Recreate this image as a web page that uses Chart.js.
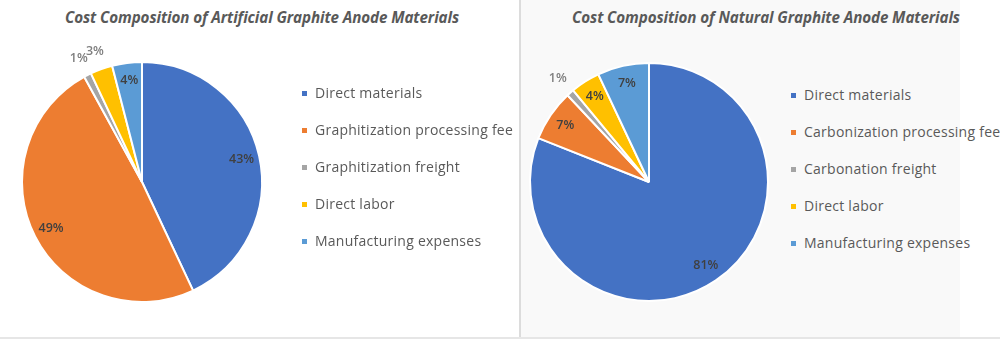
<!DOCTYPE html>
<html>
<head>
<meta charset="utf-8">
<script src="https://cdn.jsdelivr.net/npm/chart.js@4"></script>
<style>
  html, body { margin: 0; padding: 0; background: #fff; }
  body { width: 1000px; height: 339px; position: relative; overflow: hidden; font-family: "Open Sans", "Noto Sans", sans-serif; }
  .panel-right { position: absolute; left: 519px; top: 0; width: 439px; height: 337px; background: #f9f9f9; border-left: 2px solid #dcdcdc; }
  .baseline { position: absolute; left: 0; top: 337px; width: 1000px; height: 2px; background: #e6e6e6; }
  .title { position: absolute; top: 7px; font-size: 15.2px; font-weight: 700; font-style: italic; color: #595959; white-space: nowrap; transform: translateX(-50%); letter-spacing: -0.1px; }
  .pie { position: absolute; width: 280px; height: 280px; }
  .legend { position: absolute; margin: 0; padding: 0; list-style: none; }
  .legend li { height: 37px; line-height: 16px; font-size: 14px; color: #595959; white-space: nowrap; position: relative; padding-left: 13px; letter-spacing: 0.25px; }
  .legend li span { position: absolute; left: 0; top: 6px; width: 5px; height: 5px; }
</style>
</head>
<body>
<div class="panel-right"></div>
<div class="baseline"></div>
<div class="title" style="left:262px">Cost Composition of Artificial Graphite Anode Materials</div>
<div class="title" style="left:766px">Cost Composition of Natural Graphite Anode Materials</div>
<div class="pie" style="left:2px;top:42px"><canvas id="artificial"></canvas></div>
<div class="pie" style="left:509px;top:42px"><canvas id="natural"></canvas></div>
<ul class="legend" id="legend-artificial" style="left:302px;top:85px"></ul>
<ul class="legend" id="legend-natural" style="left:791px;top:87px"></ul>
<script>
const artificialLabels = ['Direct materials', 'Graphitization processing fee', 'Graphitization freight', 'Direct labor', 'Manufacturing expenses'];
const artificialValues = [43, 49, 1, 3, 4];

const naturalLabels = ['Direct materials', 'Carbonization processing fee', 'Carbonation freight', 'Direct labor', 'Manufacturing expenses'];
const naturalValues = [81, 7, 1, 4, 7];

const sliceColors = ['#4472C4', '#ED7D31', '#A5A5A5', '#FFC000', '#5B9BD5'];

// percent labels: small slices go outside the pie, the rest sit inside
const pctLabels = {
    id: 'pctLabels',
    afterDatasetsDraw(chart) {
        const ctx = chart.ctx;
        const meta = chart.getDatasetMeta(0);
        const values = chart.data.datasets[0].data;
        ctx.save();
        ctx.textAlign = 'center';
        ctx.textBaseline = 'middle';
        ctx.font = '600 12.5px "Open Sans", "Noto Sans", sans-serif';
        meta.data.forEach((arc, i) => {
            const v = values[i];
            const outside = v < 4;
            const mid = (arc.startAngle + arc.endAngle) / 2;
            const r = arc.outerRadius * (outside ? 1.16 : 0.85);
            ctx.fillStyle = outside ? '#7f7f7f' : '#404040';
            ctx.fillText(v + '%', arc.x + Math.cos(mid) * r, arc.y + Math.sin(mid) * r);
        });
        ctx.restore();
    }
};

function buildLegend(id, labels) {
    const list = document.getElementById(id);
    labels.forEach((label, i) => {
        const li = document.createElement('li');
        const box = document.createElement('span');
        box.style.background = sliceColors[i];
        li.appendChild(box);
        li.appendChild(document.createTextNode(label));
        list.appendChild(li);
    });
}

function drawPie(canvasId, labels, values, pad) {
    new Chart(document.getElementById(canvasId), {
        type: 'pie',
        data: {
            labels,
            datasets: [{
                data: values,
                backgroundColor: sliceColors,
                borderColor: '#ffffff',
                borderWidth: 2
            }]
        },
        options: {
            responsive: true,
            maintainAspectRatio: false,
            animation: false,
            layout: { padding: pad },
            plugins: {
                legend: { display: false },
                tooltip: { enabled: false }
            }
        },
        plugins: [pctLabels]
    });
}

drawPie('artificial', artificialLabels, artificialValues, 19);
drawPie('natural', naturalLabels, naturalValues, 20);
buildLegend('legend-artificial', artificialLabels);
buildLegend('legend-natural', naturalLabels);
</script>
</body>
</html>
